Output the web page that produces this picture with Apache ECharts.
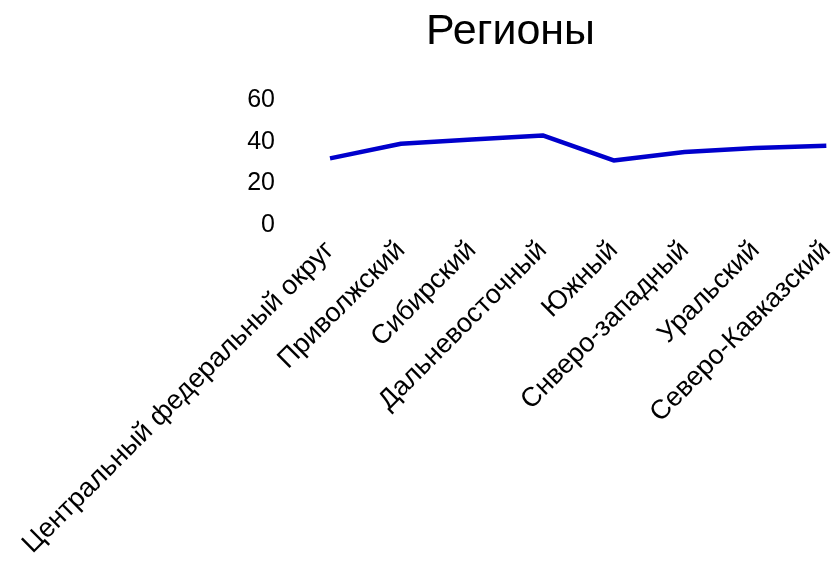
<!DOCTYPE html>
<html>
<head>
<meta charset="utf-8">
<script src="https://cdn.jsdelivr.net/npm/echarts@6/dist/echarts.min.js"></script>
<style>
  html, body { margin: 0; padding: 0; background: #fff; }
  #chart { width: 838px; height: 563px; }
</style>
</head>
<body>
<div id="chart"></div>
<script>
// Regions and values
const regions = [
    'Центральный федеральный округ',
    'Приволжский',
    'Сибирский',
    'Дальневосточный',
    'Южный',
    'Снверо-западный',
    'Уральский',
    'Северо-Кавказский'
];
const values = [32, 39, 41, 43, 31, 35, 37, 38];
const yTicks = { min: 0, max: 60, interval: 20 };

const chart = echarts.init(document.getElementById('chart'));

const option = {
    backgroundColor: '#ffffff',
    animation: false,
    title: {
        text: 'Регионы',
        left: 421,
        top: 6,
        textStyle: {
            fontFamily: 'Liberation Sans',
            fontSize: 43,
            fontWeight: 'normal',
            color: '#000'
        }
    },
    grid: {
        left: 330,
        right: 6,
        top: 100,
        bottom: 338
    },
    xAxis: {
        type: 'category',
        data: regions,
        boundaryGap: false,
        axisLine: { show: false },
        axisTick: { show: false },
        splitLine: { show: false },
        axisLabel: {
            rotate: 45,
            interval: 0,
            margin: 21,
            fontFamily: 'Liberation Sans',
            fontSize: 27,
            color: '#000'
        }
    },
    yAxis: {
        type: 'value',
        min: yTicks.min,
        max: yTicks.max,
        interval: yTicks.interval,
        axisLine: { show: false },
        axisTick: { show: false },
        splitLine: { show: false },
        axisLabel: {
            margin: 55,
            fontFamily: 'Liberation Sans',
            fontSize: 25,
            color: '#000'
        }
    },
    series: [{
        type: 'line',
        data: values,
        symbol: 'none',
        lineStyle: { color: '#0000cc', width: 4.5 }
    }]
};

chart.setOption(option);
</script>
</body>
</html>
